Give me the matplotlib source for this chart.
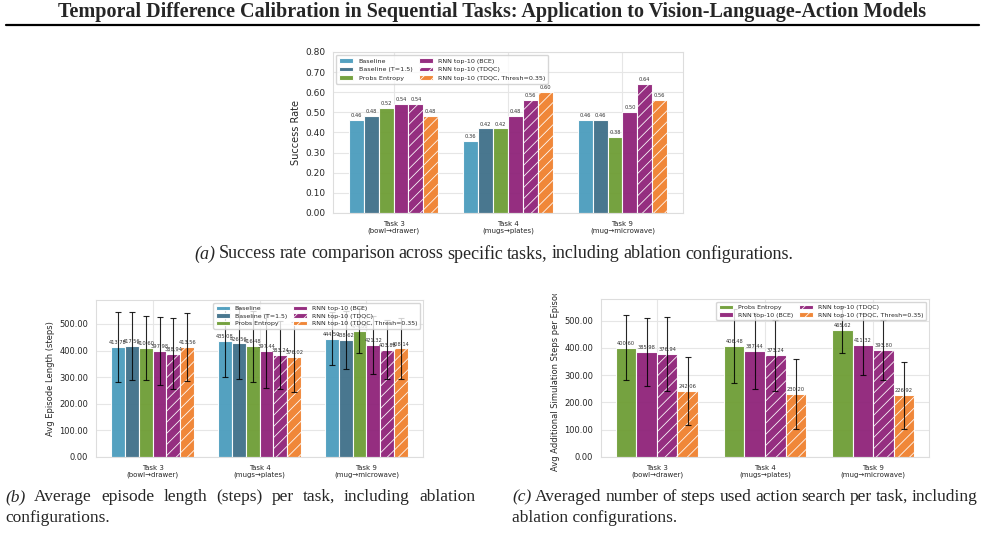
import numpy as np
import matplotlib.pyplot as plt
from matplotlib.transforms import Bbox, TransformedBbox
import seaborn as sns

sns.set_style('whitegrid')
plt.rcParams['font.family'] = ['DejaVu Sans']
plt.rcParams['hatch.linewidth'] = 0.6

W, H = 985, 546

# ---- data ----
tasks = ['Task 3\n(bowl→drawer)', 'Task 4\n(mugs→plates)', 'Task 9\n(mug→microwave)']
methods = ['Baseline', 'Baseline (T=1.5)', 'Probs Entropy',
           'RNN top-10 (BCE)', 'RNN top-10 (TDQC)', 'RNN top-10 (TDQC, Thresh=0.35)']

# (a) success rate, one list per method (Task 3, Task 4, Task 9)
sr_baseline = [0.46, 0.36, 0.46]
sr_baseline_t = [0.48, 0.42, 0.46]
sr_entropy = [0.52, 0.42, 0.38]
sr_bce = [0.54, 0.48, 0.50]
sr_tdqc = [0.54, 0.56, 0.64]
sr_thresh = [0.48, 0.60, 0.56]

# (b) episode length mean / std
len_baseline = [413.78, 435.08, 444.50]
len_baseline_t = [417.56, 426.56, 438.62]
len_entropy = [410.60, 416.48, 474.88]
len_bce = [397.98, 397.44, 421.32]
len_tdqc = [388.94, 383.24, 403.88]
len_thresh = [413.56, 376.02, 408.14]
len_std_baseline = [133, 133, 100]
len_std_baseline_t = [129, 134, 109]
len_std_entropy = [120, 134, 84]
len_std_bce = [129, 139, 109]
len_std_tdqc = [135, 129, 110]
len_std_thresh = [129, 133, 114]

# (c) additional simulation steps mean / std
sim_entropy = [400.60, 406.48, 465.62]
sim_bce = [385.98, 387.44, 411.32]
sim_tdqc = [376.94, 373.24, 393.80]
sim_thresh = [242.06, 230.20, 226.92]
sim_std_entropy = [120, 136, 86]
sim_std_bce = [125, 139, 112]
sim_std_tdqc = [135, 130, 110]
sim_std_thresh = [123, 129, 123]

colors = {
    'Baseline': '#4b9cbd',
    'Baseline (T=1.5)': '#3f7089',
    'Probs Entropy': '#6e9d35',
    'RNN top-10 (BCE)': '#8f2379',
    'RNN top-10 (TDQC)': '#8f2379',
    'RNN top-10 (TDQC, Thresh=0.35)': '#f0812e',
}
hatches = {'RNN top-10 (TDQC)': '///', 'RNN top-10 (TDQC, Thresh=0.35)': '///'}


def px_axes(fig, left, top, right, bottom):
    return fig.add_axes([left / W, 1 - bottom / H, (right - left) / W, (bottom - top) / H])


def grouped_bars(ax, names, means, stds=None, width=0.13, fmt='{:.2f}'):
    x = np.arange(len(tasks))
    n = len(names)
    for k, name in enumerate(names):
        pos = x + (k - (n - 1) / 2) * width
        ax.bar(pos, means[k], width, color=colors[name], alpha=0.95, edgecolor='white',
               linewidth=0.8, hatch=hatches.get(name), label=name, zorder=2)
        if stds is not None:
            ax.errorbar(pos, means[k], yerr=stds[k], fmt='none', ecolor='black', elinewidth=0.8,
                        capsize=2, capthick=0.8, alpha=0.85, zorder=3)
        for p, v in zip(pos, means[k]):
            ax.text(p, v + ax.get_ylim()[1] * 0.012, fmt.format(v), ha='center', va='bottom',
                    fontsize=3.7, color='#333333', zorder=4)
    ax.set_xticks(x)
    ax.set_xticklabels(tasks, fontsize=5, linespacing=1.1)
    ax.tick_params(axis='y', labelsize=6.5, pad=2)
    ax.tick_params(axis='x', pad=2)
    ax.grid(True, color='#e6e6e6', linewidth=0.8, zorder=0)
    ax.set_axisbelow(True)
    for s in ax.spines.values():
        s.set_color('#dddddd')
        s.set_linewidth(0.8)


def justified(fig, x0, x1, y, words, size, first_italic=False):
    # place words one by one so the line fills x0..x1 (pixels)
    r = fig.canvas.get_renderer()
    arts = []
    for i, w in enumerate(words):
        t = fig.text(0, 1 - y / H, w, ha='left', va='center', fontsize=size,
                     family='Liberation Serif', style='italic' if (first_italic and i == 0) else 'normal')
        arts.append(t)
    widths = [a.get_window_extent(r).width for a in arts]
    gap = (x1 - x0 - sum(widths)) / (len(words) - 1)
    x = x0
    for a, wd in zip(arts, widths):
        a.set_x(x / W)
        x += wd + gap


fig = plt.figure(figsize=(W / 100, H / 100), dpi=100)

# header
fig.text(0.5, 1 - 12 / H, 'Temporal Difference Calibration in Sequential Tasks: Application to Vision-Language-Action Models',
         ha='center', va='center', fontsize=14.5, fontweight='bold', family='Liberation Serif')
fig.add_artist(plt.Line2D([6 / W, 979 / W], [1 - 25 / H, 1 - 25 / H], color='black', linewidth=1.6))

# (a) success rate
ax_a = px_axes(fig, 333, 52, 683, 213)
ax_a.set_ylim(0, 0.8)
grouped_bars(ax_a, methods, [sr_baseline, sr_baseline_t, sr_entropy, sr_bce, sr_tdqc, sr_thresh])
ax_a.set_yticks(np.arange(0, 0.81, 0.1))
ax_a.set_yticklabels(['{:.2f}'.format(t) for t in np.arange(0, 0.81, 0.1)])
ax_a.set_ylabel('Success Rate', fontsize=7, labelpad=3)
ax_a.legend(ncol=2, loc='upper left', fontsize=4.6, frameon=True, framealpha=0.8,
            handlelength=2.2, columnspacing=1.0, borderpad=0.5, labelspacing=0.45)

cap_a = '(a) Success rate comparison across specific tasks, including ablation configurations.'.split()
justified(fig, 194, 793, 254, cap_a, 13.0, first_italic=True)

# (b) episode length
ax_b = px_axes(fig, 96, 300, 423, 457)
ax_b.set_ylim(0, 590)
grouped_bars(ax_b, methods,
             [len_baseline, len_baseline_t, len_entropy, len_bce, len_tdqc, len_thresh],
             [len_std_baseline, len_std_baseline_t, len_std_entropy, len_std_bce, len_std_tdqc, len_std_thresh])
ax_b.set_yticks([0, 100, 200, 300, 400, 500])
ax_b.set_yticklabels(['{:.2f}'.format(t) for t in [0, 100, 200, 300, 400, 500]], fontsize=6)
ax_b.set_ylabel('Avg Episode Length (steps)', fontsize=6, labelpad=3)
ax_b.legend(ncol=2, loc='upper right', fontsize=4.5, frameon=True, framealpha=0.8,
            handlelength=2.2, columnspacing=1.0, borderpad=0.4, labelspacing=0.35)

# (c) additional simulation steps
names_c = ['Probs Entropy', 'RNN top-10 (BCE)', 'RNN top-10 (TDQC)', 'RNN top-10 (TDQC, Thresh=0.35)']
ax_c = px_axes(fig, 601, 299, 929, 457)
ax_c.set_ylim(0, 579)
grouped_bars(ax_c, names_c, [sim_entropy, sim_bce, sim_tdqc, sim_thresh],
             [sim_std_entropy, sim_std_bce, sim_std_tdqc, sim_std_thresh], width=0.19)
ax_c.set_yticks([0, 100, 200, 300, 400, 500])
ax_c.set_yticklabels(['{:.2f}'.format(t) for t in [0, 100, 200, 300, 400, 500]], fontsize=6)
ax_c.set_ylabel('Avg Additional Simulation Steps per Episode', fontsize=6, labelpad=3)
# the subfigure cuts the long label off at its top
lab = ax_c.yaxis.label
lab.set_clip_on(True)
lab.set_clip_box(TransformedBbox(Bbox([[0, 0], [1, 1 - 294 / H]]), fig.transFigure))
ax_c.legend(ncol=2, loc='upper right', fontsize=4.5, frameon=True, framealpha=0.8,
            handlelength=2.2, columnspacing=1.0, borderpad=0.4, labelspacing=0.35)

# sub captions
justified(fig, 5, 475, 497, '(b) Average episode length (steps) per task, including ablation'.split(), 12.5, True)
fig.text(5 / W, 1 - 518 / H, 'configurations.', ha='left', va='center', fontsize=12.5, family='Liberation Serif')
justified(fig, 512, 978, 497, '(c) Averaged number of steps used action search per task, including'.split(), 12.5, True)
fig.text(512 / W, 1 - 518 / H, 'ablation configurations.', ha='left', va='center', fontsize=12.5, family='Liberation Serif')

fig.savefig('out.png', dpi=100)
